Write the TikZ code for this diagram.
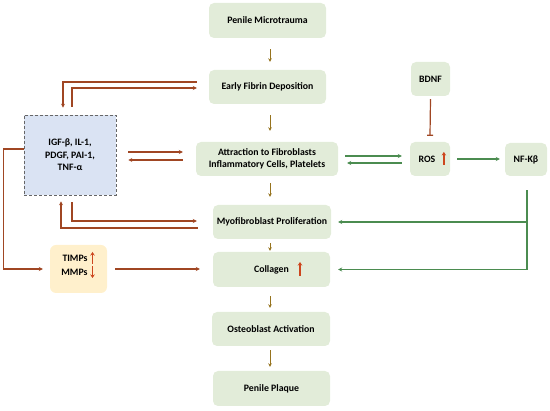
\documentclass[tikz,border=0pt]{standalone}
\usepackage{fontspec}
\setmainfont{Carlito}
\usetikzlibrary{arrows.meta,calc}
\definecolor{boxgreen}{RGB}{226,236,217}
\definecolor{boxblue}{RGB}{218,227,243}
\definecolor{boxyellow}{RGB}{255,240,204}
\definecolor{olivearr}{RGB}{150,115,30}
\definecolor{brownline}{RGB}{160,70,35}
\definecolor{greenline}{RGB}{75,140,80}
\definecolor{redup}{RGB}{205,70,30}
\tikzset{
  txt/.style={font=\fontsize{9.8}{11.5}\selectfont\bfseries, text=black},
  gbox/.style={fill=boxgreen, draw=none, rounded corners=5pt, align=center, txt},
  ibox/.style={fill=boxblue, draw=black!60, densely dashed, line width=0.6pt, align=center, txt, font=\fontsize{9.8}{12.5}\selectfont\bfseries},
  ybox/.style={fill=boxyellow, draw=none, rounded corners=6pt},
  oarr/.style={draw=olivearr, line width=1pt, -{Stealth[length=3.5pt,width=3.5pt]}},
  bline/.style={draw=brownline, line width=1.2pt, -{Stealth[length=4pt,width=4pt]}},
  gline/.style={draw=greenline, line width=1.2pt, -{Stealth[length=4pt,width=4pt]}},
  rup/.style={draw=redup, line width=1.5pt, -{Stealth[length=3.5pt,width=4.5pt]}},
}
\begin{document}
\begin{tikzpicture}[x=1pt,y=-1pt]
\useasboundingbox (0,0) rectangle (550,411);
% main column
\node[gbox, minimum width=117pt, minimum height=35pt] (micro) at (267.5,20.5) {Penile Microtrauma};
\node[gbox, minimum width=117pt, minimum height=34pt] (fib) at (267.5,87) {Early Fibrin Deposition};
\node[gbox, minimum width=142pt, minimum height=34pt] (att) at (267,159) {Attraction to Fibroblasts\\Inflammatory Cells, Platelets};
\node[gbox, minimum width=118pt, minimum height=34pt] (myo) at (272,222) {Myofibroblast Proliferation};
\node[gbox, minimum width=117pt, minimum height=35pt] (col) at (271.5,269.5) {};
\node[txt] (coltext) at (271.5,269.5) {Collagen};
\node[gbox, minimum width=118pt, minimum height=34pt] (ost) at (271,329) {Osteoblast Activation};
\node[gbox, minimum width=117pt, minimum height=35pt] (plq) at (271.5,388.5) {Penile Plaque};
% right
\node[gbox, minimum width=39pt, minimum height=34pt] (bdnf) at (430.5,79) {BDNF};
\node[gbox, minimum width=40pt, minimum height=34pt] (ros) at (430,159) {};
\node[txt] (rostext) at (427,159) {ROS};
\node[gbox, minimum width=42pt, minimum height=33pt] (nf) at (526,159.5) {NF-Kβ};
% left
\node[ibox, minimum width=92pt, minimum height=80pt] (igf) at (70,155) {IGF-β, IL-1,\\PDGF, PAI-1,\\TNF-α};
\node[ybox, minimum width=57pt, minimum height=48pt] (timp) at (78.5,269) {};
\node[txt, align=right, font=\fontsize{9.8}{13.5}\selectfont\bfseries] (timptext) at (74.5,265.5) {TIMPs\\MMPs};
% red up/down arrows
\draw[rup] ([xshift=5pt,yshift=-6pt]rostext.east) -- ([xshift=5pt,yshift=7pt]rostext.east);
\draw[rup] (300,276) -- (300,262);
\draw[rup] (92.5,264) -- (92.5,252);
\draw[rup] (92.5,266) -- (92.5,278);
% olive arrows
\draw[oarr] ([xshift=2.5pt,yshift=-11pt]micro.south) -- ([xshift=2.5pt,yshift=8pt]micro.south |- fib.north);
\draw[oarr] ([xshift=2.5pt,yshift=-11pt]fib.south) -- ([xshift=2.5pt,yshift=11pt]fib.south |- att.north);
\draw[oarr] ([xshift=3pt,yshift=-7pt]att.south) -- ([xshift=3pt,yshift=8pt]att.south |- myo.north);
\draw[oarr] ([xshift=-2pt,yshift=-4pt]myo.south) -- ([xshift=-2pt,yshift=1pt]myo.south |- col.north);
\draw[oarr] ([xshift=-1.5pt,yshift=-9pt]col.south) -- ([xshift=-1.5pt,yshift=4pt]col.south |- ost.north);
\draw[oarr] ([xshift=-1pt,yshift=-4pt]ost.south) -- ([xshift=-1pt,yshift=4pt]ost.south |- plq.north);
% brown lines around IGF
\draw[bline] ([xshift=-12pt,yshift=5pt]fib.west) -| ([xshift=-7pt,yshift=7pt]igf.north);
\draw[bline] ([xshift=2pt,yshift=8pt]igf.north) |- ([xshift=-12pt,yshift=-1pt]fib.west);
\draw[bline] ([xshift=12pt,yshift=3pt]igf.east) -- ([xshift=-13pt,yshift=3pt]igf.east -| att.west);
\draw[bline] ([xshift=-13pt,yshift=-5pt]igf.east -| att.west) -- ([xshift=12pt,yshift=-5pt]igf.east);
\draw[bline] ([xshift=-15pt,yshift=-6pt]myo.west) -| ([xshift=-9pt,yshift=-6pt]igf.south);
\draw[bline] ([xshift=2pt,yshift=-7pt]igf.south) |- ([xshift=-16pt,yshift=1pt]myo.west);
\draw[bline] ([yshift=6pt]igf.west) -- ++(-20pt,0) |- ([xshift=-7pt]timp.west);
\draw[bline] ([xshift=8pt]timp.east) -- ([xshift=-13pt]timp.east -| col.west);
% BDNF inhibits ROS
\draw[draw=brownline, line width=1.2pt, -{Bar[width=6pt]}] ([yshift=-3pt]bdnf.south) -- ([yshift=6pt]ros.north);
% green lines
\draw[gline] ([xshift=7pt,yshift=3pt]att.east) -- ([xshift=-8pt,yshift=3pt]ros.west);
\draw[gline] ([xshift=-8pt,yshift=-4pt]ros.west) -- ([xshift=9pt,yshift=-4pt]att.east);
\draw[gline] ([xshift=7pt]ros.east) -- ([xshift=-5pt]ros.east -| nf.west);
\coordinate (nfs) at ([xshift=1pt,yshift=-14pt]nf.south);
\draw[gline] (nfs) |- ([xshift=7pt]myo.east);
\draw[gline] (nfs) |- ([xshift=8pt]col.east);
\end{tikzpicture}
\end{document}
